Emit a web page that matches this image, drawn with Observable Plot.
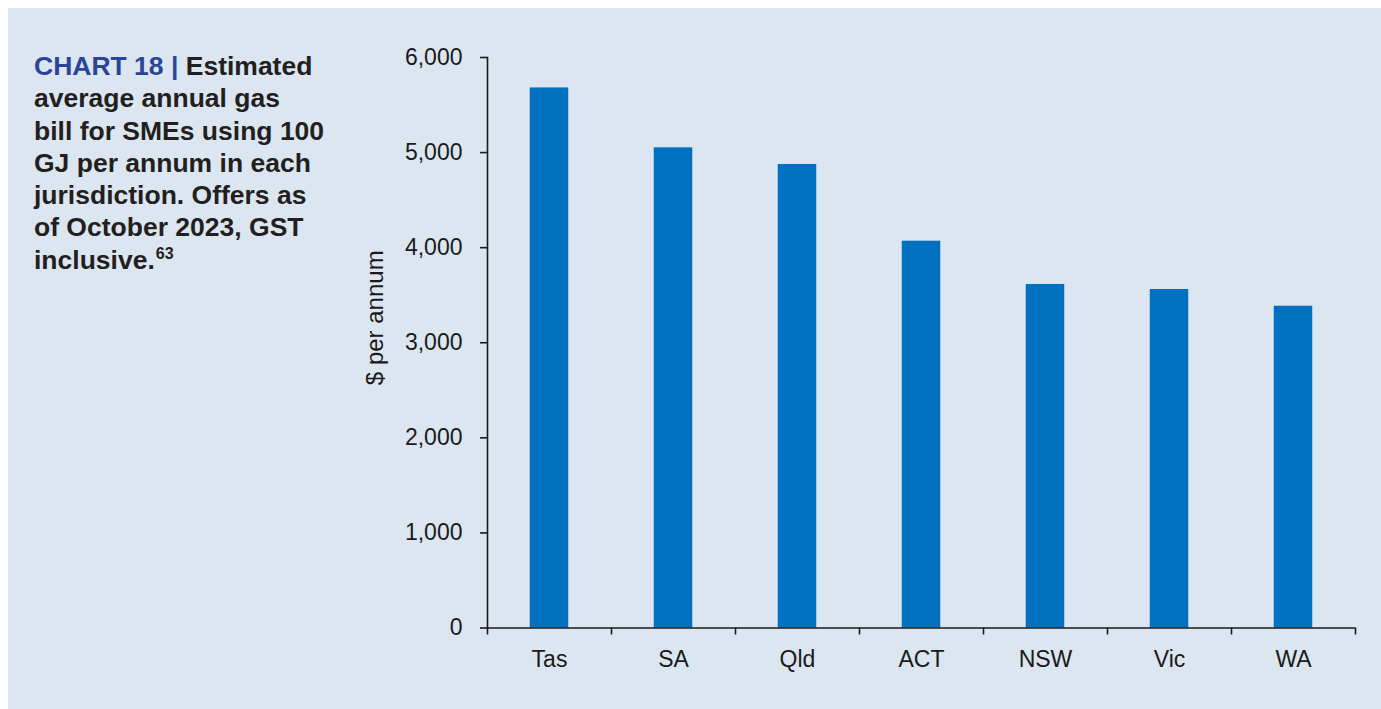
<!DOCTYPE html>
<html>
<head>
<meta charset="utf-8">
<script src="https://cdn.jsdelivr.net/npm/d3@7"></script>
<script src="https://cdn.jsdelivr.net/npm/@observablehq/plot@0.6"></script>
<style>
  html, body { margin: 0; padding: 0; background: #ffffff; }
  #wrap { position: relative; width: 1381px; height: 709px; overflow: hidden; }
  #panel { position: absolute; left: 8px; top: 8px; right: 0; bottom: 0; background: #dce6f0; }
  #title {
    position: absolute; left: 34px; top: 50px;
    font-family: "Liberation Sans", Arial, Helvetica, sans-serif;
    font-weight: bold; font-size: 26.5px; line-height: 32.3px;
    color: #231f20; white-space: nowrap;
  }
  #title .lead { color: #2a4597; }
  #title sup { font-size: 16px; line-height: 0; vertical-align: 0; position: relative; top: -10px; margin-left: 1px; }
  #chart { position: absolute; left: 0; top: 0; }
</style>
</head>
<body>
<div id="wrap">
  <div id="panel"></div>
  <div id="title"><span class="lead">CHART 18 | </span>Estimated<br>average annual gas<br>bill for SMEs using 100<br>GJ per annum in each<br>jurisdiction. Offers as<br>of October 2023, GST<br>inclusive.<sup>63</sup></div>
  <div id="chart"></div>
</div>
<script>
const categories = ["Tas", "SA", "Qld", "ACT", "NSW", "Vic", "WA"];
const bills = [5680, 5050, 4875, 4068, 3613, 3560, 3384];
const yTicks = [0, 1000, 2000, 3000, 4000, 5000, 6000];
const yLabel = ["$ per annum"];

const data = categories.map((c, i) => ({state: c, bill: bills[i]}));

const W = 1381, H = 709;
const mL = 487, mR = 26, mT = 57, mB = 81.5;
const band = (W - mL - mR) / categories.length;
const barW = 38.5;
const inset = (band - barW) / 2;
const ink = "#1a1a1a";

const chart = Plot.plot({
  width: W,
  height: H,
  marginLeft: mL,
  marginRight: mR,
  marginTop: mT,
  marginBottom: mB,
  style: {fontFamily: "'Liberation Sans', Arial, Helvetica, sans-serif", background: "transparent", color: ink, overflow: "visible"},
  x: {type: "band", domain: categories, padding: 0},
  y: {domain: [0, 6000]},
  marks: [
    Plot.barY(data, {x: "state", y: "bill", fill: "#0070c0", insetLeft: inset, insetRight: inset}),
    Plot.ruleY([0], {stroke: ink, strokeWidth: 1.6}),
    Plot.frame({anchor: "left", stroke: ink, strokeWidth: 1.6}),
    Plot.axisY({ticks: yTicks, tickSize: 7, tickPadding: 18, fontSize: 23, tickFormat: d3.format(","), label: null, stroke: ink, strokeWidth: 1.6}),
    Plot.axisX({tickSize: 0, tickPadding: 23, fontSize: 23, label: null}),
    Plot.axisX({tickSize: 7, tickFormat: () => "", dx: -band / 2, label: null, stroke: ink, strokeWidth: 1.6}),
    Plot.axisX({ticks: [categories[categories.length - 1]], tickSize: 7, tickFormat: () => "", dx: band / 2, label: null, stroke: ink, strokeWidth: 1.6}),
    Plot.text(yLabel, {text: d => d, frameAnchor: "left", textAnchor: "middle", rotate: -90, dx: -112, dy: -25, fontSize: 24, fill: ink})
  ]
});
document.getElementById("chart").appendChild(chart);
</script>
</body>
</html>
